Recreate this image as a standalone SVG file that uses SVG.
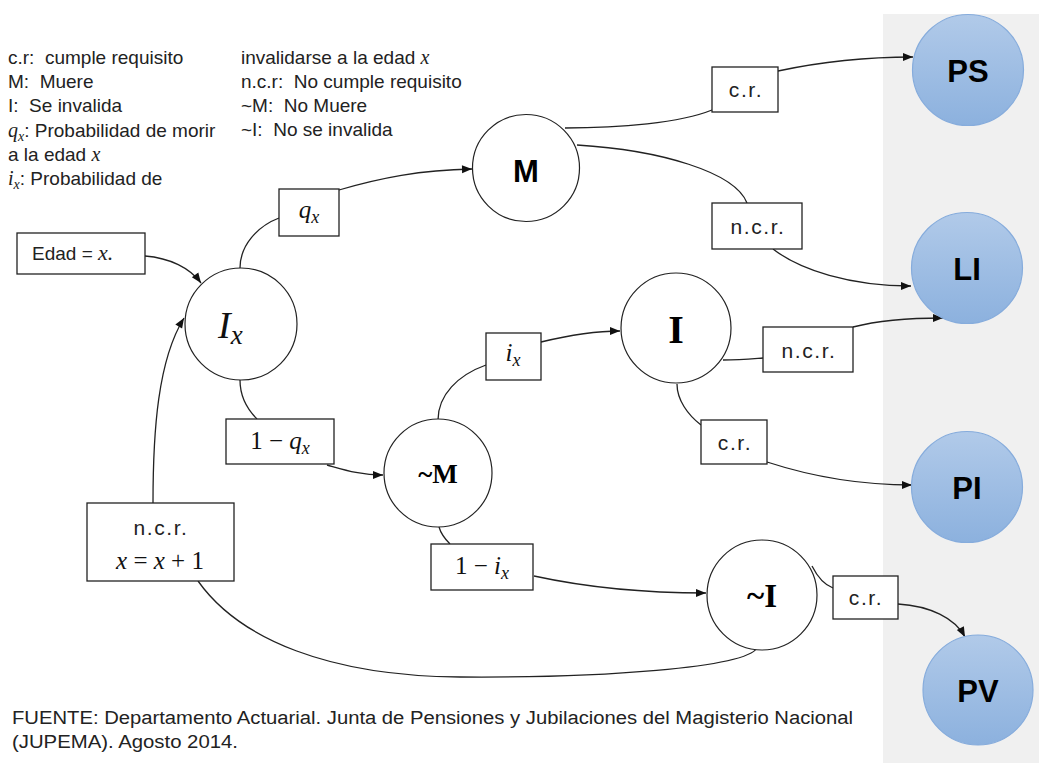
<svg xmlns="http://www.w3.org/2000/svg" width="1039" height="763" viewBox="0 0 1039 763">
<defs>
<linearGradient id="blue" x1="0" y1="0" x2="0" y2="1"><stop offset="0" stop-color="#b1cae9"/><stop offset="1" stop-color="#8cb1de"/></linearGradient>
<marker id="arr" viewBox="0 0 10 10" refX="10" refY="5" markerWidth="11" markerHeight="10" markerUnits="userSpaceOnUse" orient="auto"><path d="M0,1 L10,5 L0,9 z" fill="#111"/></marker>
</defs>
<style>
.t{font-family:"Liberation Sans",Arial,sans-serif;font-size:19px;fill:#222;white-space:pre}
.foot{font-family:"Liberation Sans",Arial,sans-serif;font-size:18px;fill:#222}
.m{font-family:"Liberation Serif","Times New Roman",serif;font-style:italic}
.i{font-style:italic}
.box{fill:#fff;stroke:#222;stroke-width:1.3}
.node{fill:#fff;stroke:#222;stroke-width:1.2}
.term{fill:url(#blue);stroke:#86acdc;stroke-width:1.2}
.conn{fill:none;stroke:#222;stroke-width:1.3}
.bl{font-family:"Liberation Sans",Arial,sans-serif;font-size:21px;letter-spacing:1.6px;fill:#222;text-anchor:middle}
.ml{font-family:"Liberation Serif","Times New Roman",serif;font-size:25px;fill:#111;text-anchor:middle}
.tl{font-family:"Liberation Sans",Arial,sans-serif;font-weight:bold;font-size:31px;fill:#000;text-anchor:middle}
.sl{font-family:"Liberation Serif","Times New Roman",serif;font-weight:bold;fill:#000;text-anchor:middle}
</style>
<rect x="883" y="14" width="156" height="749" fill="#f0f0f0"/>

<g id="legend">
<text class="t" x="8" y="64">c.r:  cumple requisito</text>
<text class="t" x="8" y="88">M:  Muere</text>
<text class="t" x="8" y="112">I:  Se invalida</text>
<text class="t" x="8" y="137"><tspan class="m" font-size="20">q</tspan><tspan class="m" font-size="14" dy="4">x</tspan><tspan dy="-4">: Probabilidad de morir</tspan></text>
<text class="t" x="8" y="161">a la edad <tspan class="m" font-size="20">x</tspan></text>
<text class="t" x="8" y="185"><tspan class="m" font-size="20">i</tspan><tspan class="m" font-size="14" dy="4">x</tspan><tspan dy="-4">: Probabilidad de</tspan></text>
<text class="t" x="241" y="64">invalidarse a la edad <tspan class="m" font-size="20">x</tspan></text>
<text class="t" x="241" y="88">n.c.r:  No cumple requisito</text>
<text class="t" x="241" y="112">~M:  No Muere</text>
<text class="t" x="241" y="136">~I:  No se invalida</text>
</g>

<g id="connectors">
<path class="conn" d="M145,256 C170,258 190,268 201,283" marker-end="url(#arr)"/>
<path class="conn" d="M153,503 C153,430 158,360 184,318" marker-end="url(#arr)"/>
<path class="conn" d="M240,268 C240,245 258,226 279,218"/>
<path class="conn" d="M339,190 C380,178 420,170 472,169" marker-end="url(#arr)"/>
<path class="conn" d="M565,128 C620,128 680,123 712,110"/>
<path class="conn" d="M778,71 C820,62 860,57 913,57" marker-end="url(#arr)"/>
<path class="conn" d="M577,145 C660,150 735,172 747,203"/>
<path class="conn" d="M773,249 C800,270 850,286 911,286" marker-end="url(#arr)"/>
<path class="conn" d="M240,380 C240,398 248,410 257,419"/>
<path class="conn" d="M327,465 C345,470 360,475 383,475" marker-end="url(#arr)"/>
<path class="conn" d="M438,420 C438,395 458,375 486,365"/>
<path class="conn" d="M541,342 C570,335 595,331 620,331" marker-end="url(#arr)"/>
<path class="conn" d="M439,527 C441,534 445,539 450,544"/>
<path class="conn" d="M723,360 C740,360 750,359 763,358"/>
<path class="conn" d="M853,327 C880,320 910,318 943,318" marker-end="url(#arr)"/>
<path class="conn" d="M677,384 C677,400 688,415 701,425"/>
<path class="conn" d="M767,462 C810,476 860,485 912,485" marker-end="url(#arr)"/>
<path class="conn" d="M534,576 C580,586 640,593 706,593" marker-end="url(#arr)"/>
<path class="conn" d="M812,566 C818,578 825,585 833,588"/>
<path class="conn" d="M898,604 C930,606 955,618 965,637" marker-end="url(#arr)"/>
<path class="conn" d="M757,648 C745,668 600,678 460,677 C330,676 240,640 198,581"/>
</g>

<g id="edad"><rect class="box" x="17" y="233" width="128" height="41"/><text class="t" x="32" y="260" font-size="19">Edad = <tspan class="m" font-size="22">x.</tspan></text></g>
<g id="Ix"><circle class="node" cx="241" cy="324" r="56"/><text x="218" y="338" font-family="Liberation Serif,serif" font-style="italic" font-size="38" fill="#111">I<tspan font-size="27" dy="6">x</tspan></text></g>
<g id="qx"><rect class="box" x="279" y="189" width="60" height="47"/><text class="ml" x="309" y="218"><tspan class="i">q</tspan><tspan class="i" font-size="18" dy="5">x</tspan></text></g>
<g id="M"><circle class="node" cx="526" cy="168" r="53.5"/><text class="tl" x="526" y="182" font-size="37">M</text></g>
<g id="cr1"><rect class="box" x="712" y="67" width="66" height="45"/><text class="bl" x="746" y="97">c.r.</text></g>
<g id="ncr1"><rect class="box" x="712" y="203" width="90" height="46"/><text class="bl" x="758" y="234">n.c.r.</text></g>
<g id="oneqx"><rect class="box" x="226" y="419" width="108" height="45"/><text class="ml" x="280" y="449">1 − <tspan class="i">q</tspan><tspan class="i" font-size="18" dy="5">x</tspan></text></g>
<g id="notM"><circle class="node" cx="438" cy="473" r="54"/><text class="sl" x="438" y="483" font-size="27">~M</text></g>
<g id="ix"><rect class="box" x="486" y="333" width="55" height="47"/><text class="ml" x="513" y="361"><tspan class="i">i</tspan><tspan class="i" font-size="18" dy="5">x</tspan></text></g>
<g id="I"><circle class="node" cx="676" cy="328" r="55"/><text class="sl" x="676" y="343" font-size="40">I</text></g>
<g id="ncr2"><rect class="box" x="763" y="327" width="90" height="45"/><text class="bl" x="809" y="358">n.c.r.</text></g>
<g id="cr2"><rect class="box" x="701" y="420" width="66" height="44"/><text class="bl" x="735" y="450">c.r.</text></g>
<g id="oneix"><rect class="box" x="431" y="544" width="102" height="46"/><text class="ml" x="482" y="574">1 − <tspan class="i">i</tspan><tspan class="i" font-size="18" dy="5">x</tspan></text></g>
<g id="notI"><circle class="node" cx="762" cy="595" r="55"/><text class="sl" x="762" y="607" font-size="33">~I</text></g>
<g id="cr3"><rect class="box" x="833" y="576" width="65" height="43"/><text class="bl" x="866" y="605">c.r.</text></g>
<g id="ncrx"><rect class="box" x="87" y="503" width="147" height="78"/><text class="bl" x="161" y="535">n.c.r.</text><text class="ml" x="160" y="569" font-size="26"><tspan class="i">x</tspan> = <tspan class="i">x</tspan> + 1</text></g>
<g id="PS"><circle class="term" cx="968" cy="70" r="55.5"/><text class="tl" x="968" y="82">PS</text></g>
<g id="LI"><circle class="term" cx="967" cy="268" r="55.5"/><text class="tl" x="967" y="280">LI</text></g>
<g id="PI"><circle class="term" cx="967" cy="487" r="55.5"/><text class="tl" x="967" y="499">PI</text></g>
<g id="PV"><circle class="term" cx="978" cy="690" r="55"/><text class="tl" x="978" y="702">PV</text></g>

<g id="footer">
<text class="foot" x="12" y="724" textLength="841" lengthAdjust="spacingAndGlyphs">FUENTE: Departamento Actuarial. Junta de Pensiones y Jubilaciones del Magisterio Nacional</text>
<text class="foot" x="12" y="748" textLength="226" lengthAdjust="spacingAndGlyphs">(JUPEMA). Agosto 2014.</text>
</g>
</svg>
